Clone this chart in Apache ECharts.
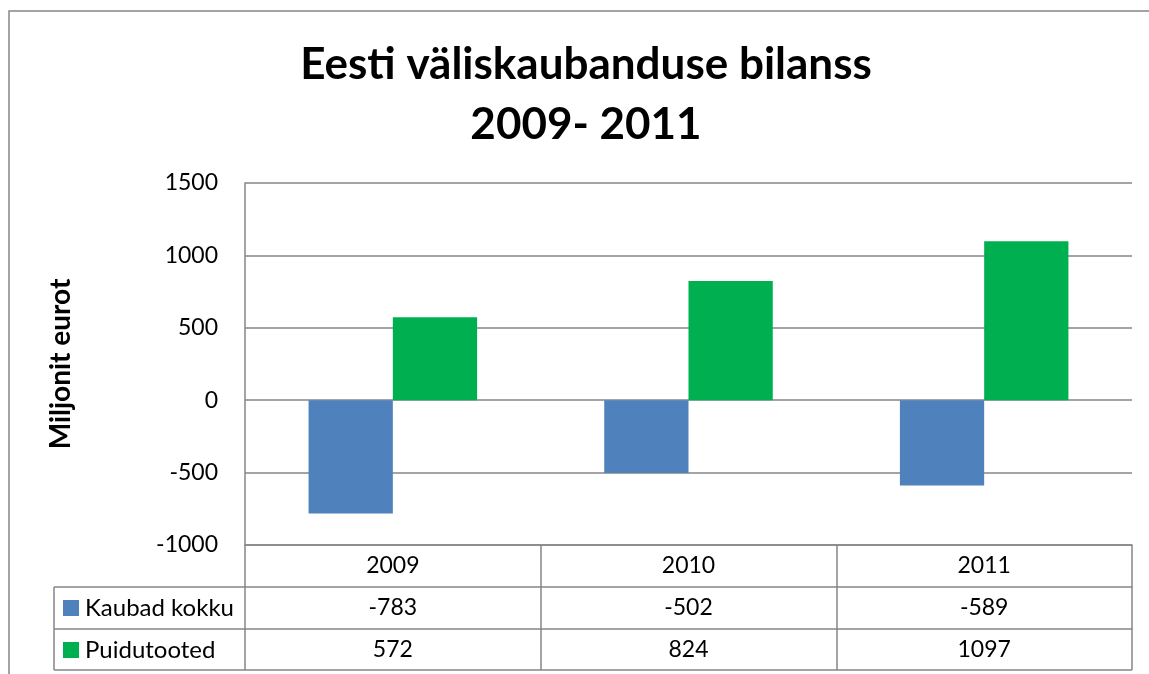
<!DOCTYPE html>
<html>
<head>
<meta charset="utf-8">
<script src="https://cdn.jsdelivr.net/npm/echarts@6/dist/echarts.min.js"></script>
<style>
  html, body { margin: 0; padding: 0; background: #fff; }
  #main { width: 1149px; height: 674px; }
</style>
</head>
<body>
<div id="main"></div>
<script>
// andmed
const years = ["2009", "2010", "2011"];
const seriesNames = ["Kaubad kokku", "Puidutooted"];
const kaubadKokku = [-783, -502, -589];
const puidutooted = [572, 824, 1097];
const seriesColors = ["#4F81BD", "#00B050"];

const FONT = "Lato";
const GRAY = "#868686";

let myChart = echarts.init(document.getElementById("main"));

// tabeli vasak veerg (legend + jooned)
const rowTops = [587, 629];
const rowH = 42;
const graphics = [
  { type: "rect", shape: { x: 9, y: 11, width: 1200, height: 700 },
    style: { fill: "none", stroke: GRAY, lineWidth: 1.5 }, silent: true },
  { type: "line", shape: { x1: 54, y1: 587, x2: 54, y2: 670 }, style: { stroke: GRAY, lineWidth: 1.5 } },
  { type: "line", shape: { x1: 54, y1: 670, x2: 1132, y2: 670 }, style: { stroke: GRAY, lineWidth: 1.5 } }
];
rowTops.forEach((y, i) => {
  graphics.push({ type: "line", shape: { x1: 54, y1: y, x2: 245, y2: y }, style: { stroke: GRAY, lineWidth: 1.5 } });
  graphics.push({ type: "rect", shape: { x: 63, y: y + rowH / 2 - 8, width: 16, height: 16 },
    style: { fill: seriesColors[i] } });
  graphics.push({ type: "text", x: 85, y: y + rowH / 2,
    style: { text: seriesNames[i], font: "24px " + FONT, fill: "#000", textVerticalAlign: "middle" } });
});

function tableAxis(data, offset, showLabel) {
  return {
    type: "category", data: data, position: "bottom", offset: offset,
    axisLine: { show: true, onZero: false, lineStyle: { color: GRAY, width: 1.5 } },
    axisTick: { show: false },
    axisLabel: { show: showLabel, color: "#000", fontSize: 23, fontFamily: FONT, margin: 9, interval: 0 },
    splitLine: { show: false }
  };
}

myChart.setOption({
  animation: false,
  title: {
    text: "Eesti väliskaubanduse bilanss\n2009- 2011",
    left: 586,
    textAlign: "center",
    top: 35,
    padding: 0,
    textStyle: { fontSize: 44, fontWeight: "bold", fontFamily: FONT, color: "#000", lineHeight: 60 }
  },
  grid: { left: 245, right: 17, top: 183, bottom: 129 },
  xAxis: [
    {
      type: "category", data: years, position: "bottom",
      axisLine: { show: true, onZero: false, lineStyle: { color: GRAY, width: 1.5 } },
      axisTick: { show: true, interval: 0, length: 125, lineStyle: { color: GRAY, width: 1.5 } },
      axisLabel: { color: "#000", fontSize: 23, fontFamily: FONT, margin: 9, interval: 0 },
      splitLine: { show: false }
    },
    tableAxis(kaubadKokku.map(String), 42, true),
    tableAxis(puidutooted.map(String), 84, true)
  ],
  yAxis: {
    type: "value", min: -1000, max: 1500, interval: 500,
    name: "Miljonit eurot", nameLocation: "middle", nameRotate: 90, nameGap: 170,
    nameTextStyle: { fontSize: 28, fontWeight: "bold", fontFamily: FONT, color: "#000" },
    axisLine: { show: true, lineStyle: { color: GRAY, width: 1.5 } },
    axisTick: { show: false },
    axisLabel: { color: "#000", fontSize: 23, fontFamily: FONT, margin: 27, formatter: (v) => String(v) },
    splitLine: { show: true, lineStyle: { color: GRAY, width: 1.5 } }
  },
  series: [
    { name: seriesNames[0], type: "bar", data: kaubadKokku, xAxisIndex: 0,
      itemStyle: { color: seriesColors[0] }, barGap: "0%", barCategoryGap: "43%" },
    { name: seriesNames[1], type: "bar", data: puidutooted, xAxisIndex: 0,
      itemStyle: { color: seriesColors[1] }, barGap: "0%", barCategoryGap: "43%" }
  ],
  graphic: graphics
});
</script>
</body>
</html>
